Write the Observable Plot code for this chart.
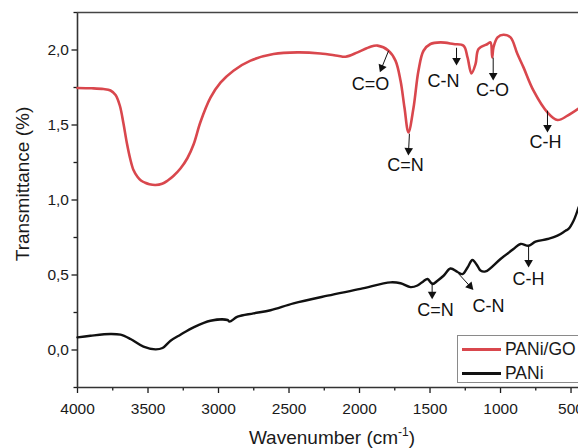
<!DOCTYPE html>
<html><head><meta charset="utf-8">
<script src="https://cdn.jsdelivr.net/npm/d3@7"></script>
<script src="https://cdn.jsdelivr.net/npm/@observablehq/plot@0.6"></script>
<style>
html,body{margin:0;padding:0;background:#fff;overflow:hidden;}
#wrap{position:relative;width:578px;height:448px;font-family:"Liberation Sans",Arial,sans-serif;color:#1a1a1a;}
#xtitle{position:absolute;left:0;width:664px;top:427px;line-height:22px;text-align:center;font-size:19px;}
#xtitle sup{font-size:12px;line-height:0;position:relative;top:-1px;}
#legend{position:absolute;left:457px;top:335px;width:150px;height:46px;border:1px solid #8a8a8a;background:#fff;}
.lrow{position:absolute;left:0;height:20px;}
.lline{position:absolute;left:4px;width:39px;height:2.5px;}
.ltext{position:absolute;left:47px;font-size:17.5px;line-height:20px;white-space:nowrap;}
</style></head><body><div id="wrap"></div>
<script>
// PANi/GO spectrum (red)
const wnGO = [4000,3900,3816,3766,3730,3700,3674,3650,3625,3603,3575,3550,3520,3490,3447,3400,3360,3320,3270,3220,3177,3128,3057,2986,2894,2773,2610,2440,2277,2156,2099,2014,1922,1872,1794,1745,1709,1681,1653,1617,1582,1546,1497,1426,1333,1262,1234,1206,1177,1156,1092,1071,1059,1050,1021,979,929,880,837,766,667,596,525,447];
const tGO  = [1.747,1.745,1.74,1.73,1.70,1.63,1.51,1.38,1.27,1.2,1.155,1.13,1.115,1.105,1.10,1.108,1.13,1.16,1.21,1.28,1.37,1.52,1.682,1.782,1.862,1.929,1.973,1.984,1.977,1.962,1.955,1.984,2.022,2.029,1.995,1.929,1.795,1.615,1.451,1.615,1.862,1.995,2.04,2.051,2.04,2.029,1.951,1.844,1.907,2.007,2.04,2.051,1.951,2.017,2.084,2.102,2.084,1.973,1.884,1.729,1.584,1.533,1.562,1.609];
// PANi spectrum (black)
const wnPANi = [4000,3908,3766,3695,3624,3532,3447,3397,3340,3270,3177,3057,2936,2922,2865,2752,2631,2468,2227,1993,1780,1709,1638,1589,1546,1518,1482,1447,1404,1355,1305,1270,1234,1199,1163,1142,1106,1000,908,858,801,752,667,596,539,518,482,447];
const tPANi  = [0.084,0.095,0.107,0.102,0.073,0.022,0.004,0.013,0.062,0.102,0.151,0.195,0.20,0.189,0.222,0.244,0.265,0.311,0.362,0.407,0.451,0.445,0.419,0.43,0.459,0.473,0.44,0.462,0.495,0.543,0.52,0.506,0.55,0.60,0.56,0.53,0.524,0.607,0.673,0.707,0.695,0.722,0.74,0.762,0.795,0.807,0.862,0.95];
const seriesNames = ["PANi/GO","PANi"];
const seriesColors = ["#d9474d","#111111"];
// axis ticks
const xTicks = [4000,3500,3000,2500,2000,1500,1000,500];
const xMinor = [3750,3250,2750,2250,1750,1250,750];
const yTicks = [0,0.5,1,1.5,2];
const yMinor = [-0.25,0.25,0.75,1.25,1.75,2.25];
// band annotations
const annLabel = ["C=O","C=N","C-N","C-O","C-H","C=N","C-N","C-H"];
const annX1 = [1794,1646,1312,1052,667,1485,1298,801];
const annY1 = [1.995,1.442,2.015,1.949,1.595,0.451,0.509,0.695];
const annX2 = [1851,1653,1312,1052,667,1485,1201,801];
const annY2 = [1.862,1.309,1.909,1.809,1.462,0.351,0.409,0.562];
const annTx = [1922,1674,1404,1057,681,1461,1085,801];
const annTy = [1.775,1.229,1.795,1.729,1.382,0.262,0.295,0.475];

const xDom = [4000, 447], yDom = [-0.25, 2.25];
const W = 578, H = 448, mL = 77, mR = 0, mT = 12, mB = 61;
const kx = (W - mL - mR) / (xDom[1] - xDom[0]);   // px per wavenumber (negative: reversed)
const ky = -(H - mT - mB) / (yDom[1] - yDom[0]);  // px per unit (screen y down)

const go = wnGO.map((w,i)=>({w, t:tGO[i]}));
const pani = wnPANi.map((w,i)=>({w, t:tPANi[i]}));
const ann = annLabel.map((s,i)=>{
  const x1=annX1[i], y1=annY1[i], x2=annX2[i], y2=annY2[i];
  const dx=(x2-x1)*kx, dy=(y2-y1)*ky, len=Math.hypot(dx,dy);
  const f = 1 - 3.2/len;
  return {s, x1, y1, x2, y2, tx:annTx[i], ty:annTy[i],
    hx: x1+(x2-x1)*f, hy: y1+(y2-y1)*f,
    sx: x1+(x2-x1)*(1-5/len), sy: y1+(y2-y1)*(1-5/len),
    rot: Math.atan2(dx, -dy)*180/Math.PI};
});
const fmtY = d => d.toFixed(1).replace(".", ",");

const chart = Plot.plot({
  width: W, height: H,
  marginLeft: mL, marginRight: mR, marginTop: mT, marginBottom: mB,
  style: {fontFamily: "Liberation Sans, Arial, sans-serif", fontSize: "15.5px", color: "#1a1a1a", background: "#fff"},
  x: {domain: xDom},
  y: {domain: yDom},
  marks: [
    Plot.axisX(xTicks, {tickSize: 6, tickPadding: 9, tickFormat: d => String(d), label: null, strokeWidth: 1.3, fontSize: 15.5}),
    Plot.axisX(xMinor, {tickSize: 3.5, tickFormat: () => "", label: null, strokeWidth: 1.3}),
    Plot.axisY(yTicks, {tickSize: 5.5, tickPadding: 3, tickFormat: fmtY, label: null, strokeWidth: 1.3, fontSize: 15.5}),
    Plot.axisY(yMinor, {tickSize: 3.5, tickFormat: () => "", label: null, strokeWidth: 1.3}),
    Plot.ruleX([4000], {stroke: "#333", strokeWidth: 1.6}),
    Plot.ruleY([2.25], {stroke: "#444", strokeWidth: 1.5}),
    Plot.ruleY([-0.25], {stroke: "#333", strokeWidth: 1.6}),
    Plot.line(go, {x: "w", y: "t", stroke: seriesColors[0], strokeWidth: 2.6, curve: "catmull-rom"}),
    Plot.line(pani, {x: "w", y: "t", stroke: seriesColors[1], strokeWidth: 2.4, curve: "catmull-rom"}),
    Plot.link(ann, {x1: "x1", y1: "y1", x2: "sx", y2: "sy", stroke: "#111", strokeWidth: 1}),
    Plot.dot(ann, {x: "hx", y: "hy", symbol: "triangle", r: 3.2, fill: "#111", stroke: null, rotate: "rot"}),
    Plot.text(ann, {x: "tx", y: "ty", text: "s", fontSize: 18, fill: "#111"}),
    Plot.text(["Transmittance (%)"], {frameAnchor: "left", dx: -55, dy: -16, rotate: -90, textAnchor: "middle", fontSize: 19, fill: "#1a1a1a"})
  ]
});
const wrap = document.getElementById("wrap");
wrap.appendChild(chart);
const xt = document.createElement("div");
xt.id = "xtitle";
xt.innerHTML = "Wavenumber (cm<sup>-1</sup>)";
wrap.appendChild(xt);
const lg = document.createElement("div");
lg.id = "legend";
seriesNames.forEach((n,i)=>{
  const row = document.createElement("div");
  row.className = "lrow";
  row.style.top = (i===0 ? 3 : 27) + "px";
  row.style.width = "150px";
  const ln = document.createElement("div");
  ln.className = "lline"; ln.style.background = seriesColors[i]; ln.style.top = "9px";
  const tx = document.createElement("div");
  tx.className = "ltext"; tx.textContent = n; tx.style.top = "0px";
  row.appendChild(ln); row.appendChild(tx);
  lg.appendChild(row);
});
wrap.appendChild(lg);
</script>
</body></html>
